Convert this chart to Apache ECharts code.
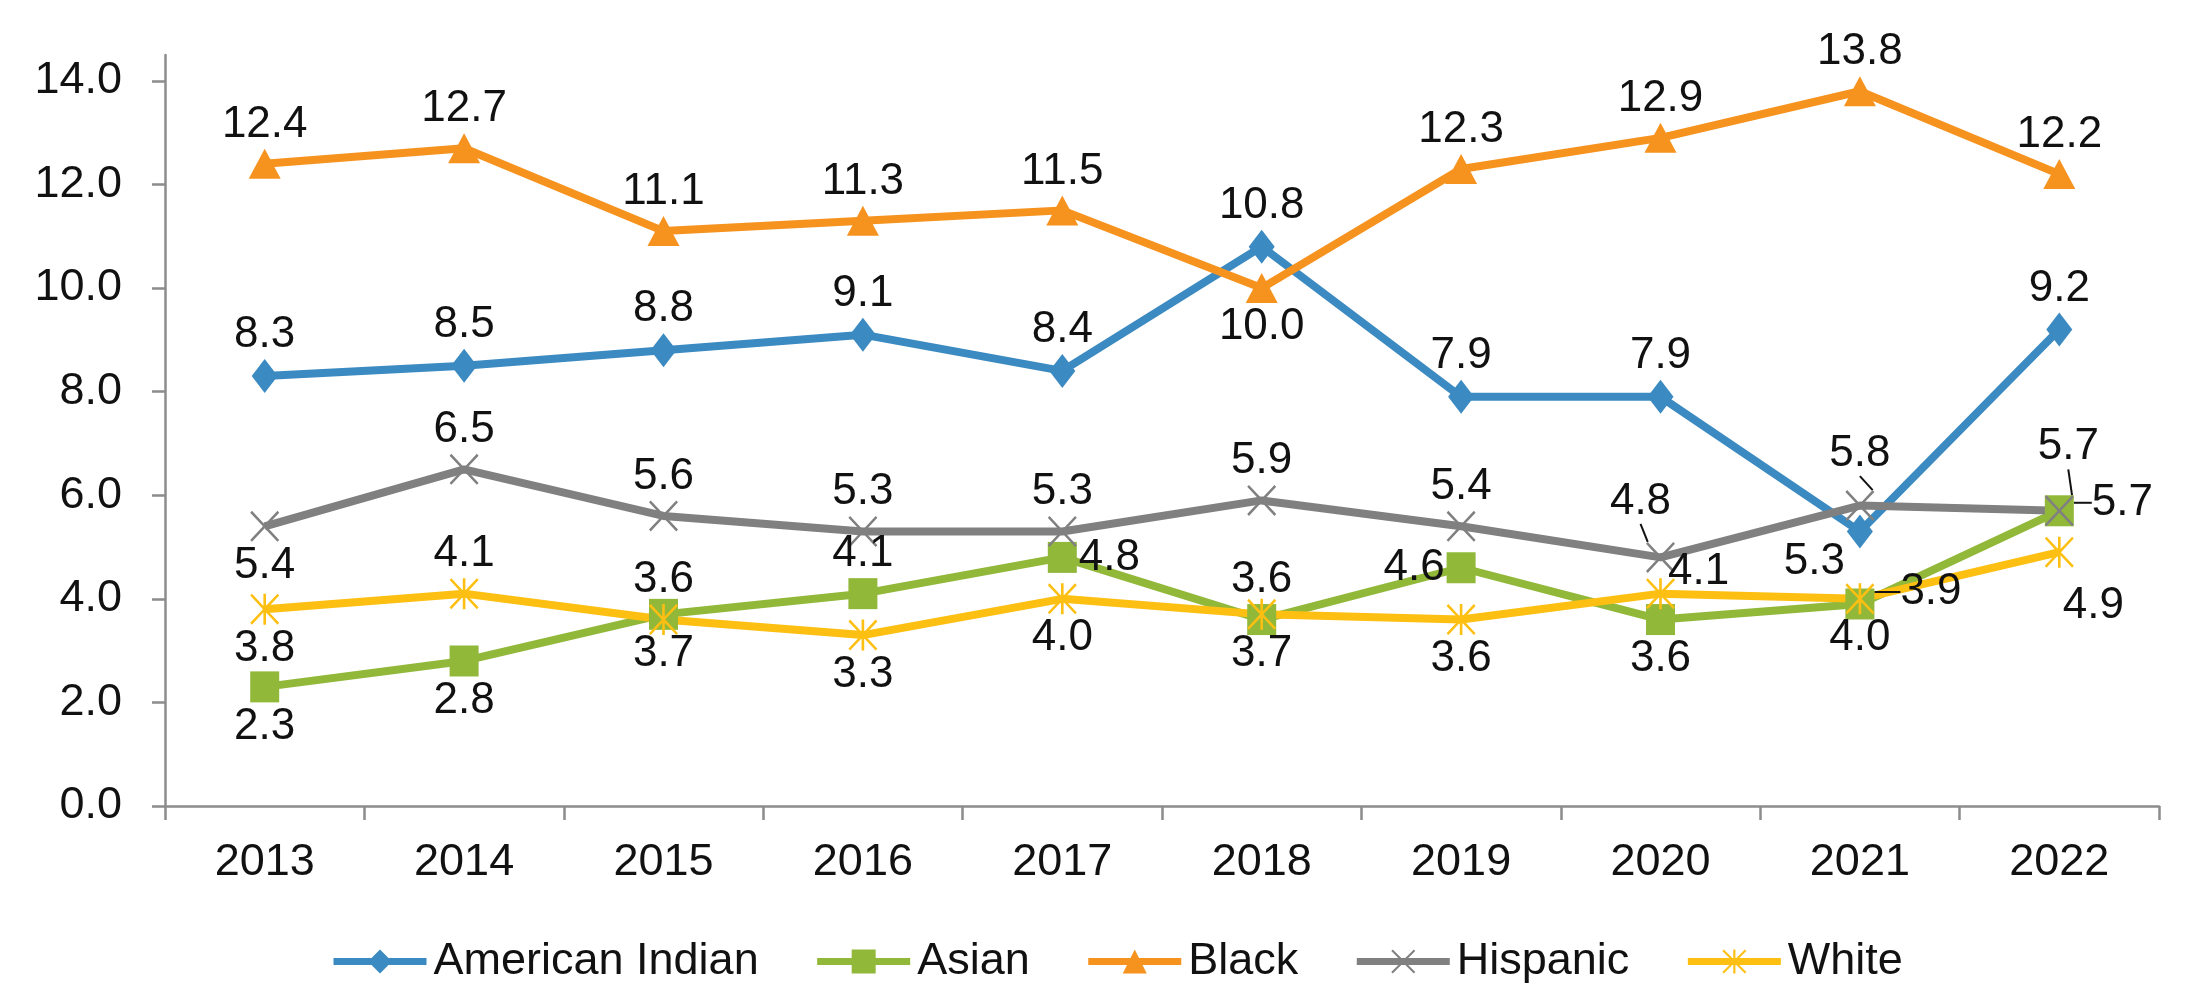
<!DOCTYPE html>
<html>
<head>
<meta charset="utf-8">
<script src="https://cdn.jsdelivr.net/npm/echarts@6/dist/echarts.min.js"></script>
<style>
  html, body { margin: 0; padding: 0; background: #ffffff; }
  #chart { width: 2190px; height: 994px; }
</style>
</head>
<body>
<div id="chart"></div>
<script>
// Rates by group, 2013-2022
const years = ['2013', '2014', '2015', '2016', '2017', '2018', '2019', '2020', '2021', '2022'];
const americanIndian = [8.3, 8.5, 8.8, 9.1, 8.4, 10.8, 7.9, 7.9, 5.3, 9.2];
const asian = [2.3, 2.8, 3.7, 4.1, 4.8, 3.6, 4.6, 3.6, 3.9, 5.7];
const black = [12.4, 12.7, 11.1, 11.3, 11.5, 10.0, 12.3, 12.9, 13.8, 12.2];
const hispanic = [5.4, 6.5, 5.6, 5.3, 5.3, 5.9, 5.4, 4.8, 5.8, 5.7];
const white = [3.8, 4.1, 3.6, 3.3, 4.0, 3.7, 3.6, 4.1, 4.0, 4.9];
const yTicks = [0, 2, 4, 6, 8, 10, 12, 14];

const FONT = '"Liberation Sans", Arial, Helvetica, sans-serif';

// Marker shapes: thin X cross, and X cross with a vertical bar (asterisk)
const X_PATH = 'path://M0,1.2L1.2,0L10,8.8L18.8,0L20,1.2L11.2,10L20,18.8L18.8,20L10,11.2L1.2,20L0,18.8L8.8,10Z';
const STAR_PATH = 'path://M0,1.2L1.2,0L10,8.8L18.8,0L20,1.2L11.2,10L20,18.8L18.8,20L10,11.2L1.2,20L0,18.8L8.8,10Z' +
                  'M9.1,0L10.9,0L10.9,20L9.1,20Z';

// Label placement per point, and nudges (with guide lines where flagged)
const T = 'top', B = 'bottom', L = 'left', R = 'right';
const placement = {
  americanIndian: { pos: [T, T, T, T, T, T, T, T, L, T], moves: { 8: [0, 30] }, lines: [] },
  asian:          { pos: [B, B, B, T, R, T, L, B, R, R], moves: { 8: [24, -12], 9: [16, -8] }, lines: [8, 9] },
  black:          { pos: [T, T, T, T, T, B, T, T, T, T], moves: {}, lines: [] },
  hispanic:       { pos: [B, T, T, T, T, T, T, T, T, T], moves: { 7: [-20, -16], 8: [0, -12], 9: [9, -24] }, lines: [7, 8, 9] },
  white:          { pos: [B, T, T, B, B, B, B, R, B, B], moves: { 7: [-9, -22], 9: [34, 14] }, lines: [] }
};

function buildData(values, key) {
  const p = placement[key];
  return values.map((v, i) => ({
    value: v,
    label: { position: p.pos[i] },
    labelLine: { show: p.lines.indexOf(i) >= 0 }
  }));
}

function makeSeries(name, key, values, color, symbol, symbolSize) {
  const p = placement[key];
  return {
    name: name,
    type: 'line',
    data: buildData(values, key),
    symbol: symbol,
    symbolSize: symbolSize,
    showAllSymbol: true,
    lineStyle: { color: color, width: 8 },
    itemStyle: { color: color, borderWidth: 0 },
    label: {
      show: true,
      distance: 2,
      fontFamily: FONT,
      fontSize: 44,
      color: '#111111',
      formatter: (d) => d.value.toFixed(1)
    },
    labelLine: { show: false, lineStyle: { color: '#111111', width: 2 } },
    labelLayout: function (params) {
      const m = p.moves[params.dataIndex];
      return m ? { dx: m[0], dy: m[1] } : {};
    },
    emphasis: { disabled: true }
  };
}

const chart = echarts.init(document.getElementById('chart'), null, { renderer: 'canvas' });

chart.setOption({
  animation: false,
  backgroundColor: '#ffffff',
  grid: { left: 165, right: 31, top: 55, bottom: 188, containLabel: false },
  legend: {
    left: 325,
    top: 934,
    itemWidth: 93,
    itemHeight: 30,
    itemGap: 55,
    lineStyle: { width: 7 },
    textStyle: { fontFamily: FONT, fontSize: 45, color: '#111111', padding: [0, 0, 0, 2] },
    data: ['American Indian', 'Asian', 'Black', 'Hispanic', 'White']
  },
  xAxis: {
    type: 'category',
    data: years,
    boundaryGap: true,
    axisLine: { lineStyle: { color: '#8c8c8c', width: 2.5 } },
    axisTick: { show: true, inside: false, length: 14, alignWithLabel: false, interval: 0,
                lineStyle: { color: '#8c8c8c', width: 2.5 } },
    axisLabel: { fontFamily: FONT, fontSize: 45, color: '#111111', margin: 34, interval: 0 },
    splitLine: { show: false }
  },
  yAxis: {
    type: 'value',
    min: 0,
    max: 14.5,
    interval: 2,
    axisLine: { show: true, lineStyle: { color: '#8c8c8c', width: 2.5 } },
    axisTick: { show: true, inside: false, length: 13, customValues: yTicks,
                lineStyle: { color: '#8c8c8c', width: 2.5 } },
    axisLabel: { fontFamily: FONT, fontSize: 45, color: '#111111', margin: 43,
                 customValues: yTicks, formatter: (v) => v.toFixed(1) },
    splitLine: { show: false }
  },
  series: [
    makeSeries('American Indian', 'americanIndian', americanIndian, '#3b8ac1', 'diamond', [26, 34]),
    makeSeries('Asian', 'asian', asian, '#92b83a', 'rect', [29, 31]),
    makeSeries('Black', 'black', black, '#f6921e', 'triangle', [32, 30]),
    makeSeries('Hispanic', 'hispanic', hispanic, '#808080', X_PATH, [29, 31]),
    makeSeries('White', 'white', white, '#fdbf12', STAR_PATH, [29, 31])
  ]
});
</script>
</body>
</html>
